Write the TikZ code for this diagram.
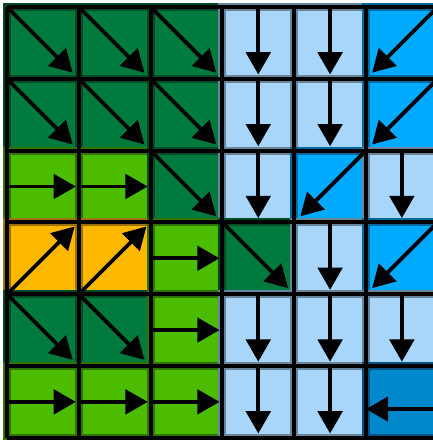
\documentclass[tikz,border=0pt]{standalone}
\usepackage{xcolor}
\usepackage{tikz}
\usetikzlibrary{arrows.meta}
\definecolor{dgc}{HTML}{007A3D}
\definecolor{lgc}{HTML}{4CBC00}
\definecolor{orc}{HTML}{FFB800}
\definecolor{lbc}{HTML}{A8D5FA}
\definecolor{bbc}{HTML}{00AAFF}
\definecolor{dbc}{HTML}{0088CC}
\tikzset{
  ar/.style={-{Triangle[length=3.1mm,width=3.4mm]},line width=1.5pt,black},
  cell/.style={rectangle,minimum size=1cm,inner sep=0pt,outer sep=0pt,line width=3.2pt,fill=#1,draw=#1!62!black},
  grd/.style={black,line width=1.6pt}
}
\begin{document}
\begin{tikzpicture}[x=1cm,y=-1cm]
\useasboundingbox (-0.0975,-0.0975) rectangle (5.933,6.031);
\foreach [count=\r] \row in {{dgc,dgc,dgc,lbc,lbc,bbc},{dgc,dgc,dgc,lbc,lbc,bbc},{lgc,lgc,dgc,lbc,bbc,lbc},{orc,orc,lgc,dgc,lbc,bbc},{dgc,dgc,lgc,lbc,lbc,lbc},{lgc,lgc,lgc,lbc,lbc,dbc}}{
  \foreach [count=\c] \k in \row {\node[cell=\k] (c\r\c) at (\c-0.5,\r-0.5) {};}}
\draw[grd] (0,0) grid (6,6);
% arrows per kind of cell
\foreach \n in {11,12,13,21,22,23,33,44,51,52}{\draw[ar,shorten >=1.2mm] (c\n.north west) -- (c\n.south east);}
\foreach \n in {14,15,24,25,34,36,45,54,55,56,64,65}{\draw[ar,shorten >=0.6mm] (c\n.north) -- (c\n.south);}
\foreach \n in {16,26,35,46}{\draw[ar,shorten >=1.2mm] (c\n.north east) -- (c\n.south west);}
\foreach \n in {31,32,43,53,61,62,63}{\draw[ar,shorten >=0.4mm] (c\n.west) -- (c\n.east);}
\foreach \n in {41,42}{\draw[ar,shorten >=0.8mm] (c\n.south west) -- (c\n.north east);}
\draw[ar] ([yshift=-1mm]c66.east) -- ([yshift=-1mm]c66.west);
\end{tikzpicture}
\end{document}
